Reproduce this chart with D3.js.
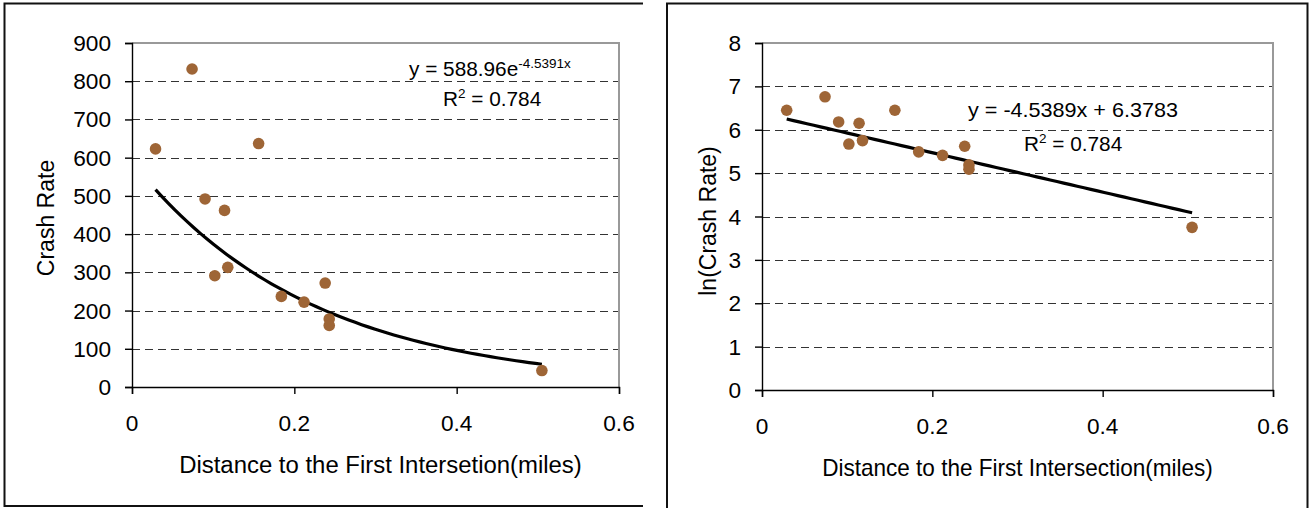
<!DOCTYPE html>
<html><head><meta charset="utf-8">
<script src="https://cdn.jsdelivr.net/npm/d3@7"></script>
<style>
html,body{margin:0;padding:0;background:#fff;}
svg{display:block;font-family:"Liberation Sans",Arial,sans-serif;}
</style></head>
<body>
<svg id="c" width="1310" height="508"></svg>
<script>
// ---- data ----
const distance = [0.029, 0.074, 0.090, 0.114, 0.102, 0.118, 0.156, 0.184, 0.212, 0.238, 0.243, 0.243, 0.505];
const crashRate = [623, 832, 492, 462, 291, 313, 637, 237, 222, 272, 178, 161, 43];
const lnCrashRate = [6.45, 6.76, 6.18, 6.15, 5.67, 5.75, 6.45, 5.49, 5.41, 5.62, 5.19, 5.09, 3.75];
const xTicks = [0, 0.2, 0.4, 0.6];
const xTickLabels = ["0", "0.2", "0.4", "0.6"];
const yTicksLeft = [0, 100, 200, 300, 400, 500, 600, 700, 800, 900];
const yTicksRight = [0, 1, 2, 3, 4, 5, 6, 7, 8];
// trendline coefficients (from the chart's equations)
const expA = 588.96, expB = -4.5391;
const linM = -4.5389, linC = 6.3783;
const trendRange = [0.029, 0.505];

const svg = d3.select("#c");
const POINT = "#9E6536";

function txt(g, x, y, s, size, anchor, sx) {
  const t = g.append("text")
    .attr("transform", `translate(${x},${y}) scale(${sx || 1.03},1)`)
    .attr("font-size", size).attr("text-anchor", anchor || "start").attr("fill", "#000");
  if (s !== null) t.text(s);
  return t;
}

// panel frames
svg.append("path").attr("d", "M643,3.5 H4.5 V506 H643").attr("fill", "none").attr("stroke", "#111").attr("stroke-width", 2);
svg.append("path").attr("d", "M667,510 V3.5 H1307.5 V510").attr("fill", "none").attr("stroke", "#111").attr("stroke-width", 2);

function panel(cfg) {
  const g = svg.append("g");
  const x = d3.scaleLinear().domain([0, 0.6]).range([cfg.x0, cfg.x1]);
  const y = d3.scaleLinear().domain([0, cfg.ymax]).range([cfg.y0, cfg.y1]);
  // gridlines
  g.selectAll("line.grid").data(cfg.yTicks.filter(v => v > 0 && v < cfg.ymax)).enter().append("line")
    .attr("x1", cfg.x0).attr("x2", cfg.x1).attr("y1", d => Math.round(y(d)) + 0.5).attr("y2", d => Math.round(y(d)) + 0.5)
    .attr("stroke", "#333").attr("stroke-width", 1.2).attr("stroke-dasharray", "8,5");
  // plot border top/right
  g.append("path").attr("d", `M${cfg.x0},${cfg.y1} H${cfg.x1} V${cfg.y0}`).attr("fill", "none").attr("stroke", "#999").attr("stroke-width", 2);
  // axes
  const ya = d3.axisLeft(y).tickValues(cfg.yTicks).tickSize(7).tickFormat("");
  g.append("g").attr("transform", `translate(${cfg.x0},0)`).call(ya)
    .call(a => a.selectAll("path,line").attr("stroke", "#000").attr("stroke-width", 1.4));
  const xa = d3.axisBottom(x).tickValues(xTicks).tickSize(7).tickFormat("");
  g.append("g").attr("transform", `translate(0,${cfg.y0})`).call(xa)
    .call(a => a.selectAll("path,line").attr("stroke", "#000").attr("stroke-width", 1.4));
  // tick labels
  cfg.yTicks.forEach(v => txt(g, cfg.x0 - 21, y(v) + 8, String(v), 22, "end"));
  xTicks.forEach((v, i) => txt(g, x(v), cfg.y0 + 44, xTickLabels[i], 22, "middle"));
  // titles
  txt(g, (cfg.x0 + cfg.x1) / 2 + cfg.xtDx, cfg.y0 + 86, cfg.xTitle, 23, "middle", cfg.xtSx);
  g.append("text").attr("transform", `translate(${cfg.ytX},${cfg.ytY}) rotate(-90)`)
    .attr("font-size", 23).attr("text-anchor", "middle").text(cfg.yTitle);
  // trend line
  const xs = d3.range(0, 61).map(i => trendRange[0] + (trendRange[1] - trendRange[0]) * i / 60);
  g.append("path").datum(xs.map(v => [v, cfg.trend(v)]))
    .attr("d", d3.line().x(d => x(d[0])).y(d => y(d[1])))
    .attr("fill", "none").attr("stroke", "#000").attr("stroke-width", 3.2);
  // points
  g.selectAll("circle").data(cfg.xs.map((d, i) => [d, cfg.ys[i]])).enter().append("circle")
    .attr("cx", d => x(d[0])).attr("cy", d => y(d[1])).attr("r", 5.8).attr("fill", POINT);
  return {g, x, y};
}

const L = panel({x0: 132, x1: 619, y0: 387, y1: 43, ymax: 900, yTicks: yTicksLeft,
  xs: distance, ys: crashRate, trend: v => expA * Math.exp(expB * v),
  xTitle: "Distance to the First Intersetion(miles)", xtDx: 5, xtSx: 1.04, yTitle: "Crash Rate", ytX: 54, ytY: 218});
const R = panel({x0: 762, x1: 1273, y0: 390, y1: 43, ymax: 8, yTicks: yTicksRight,
  xs: distance, ys: lnCrashRate, trend: v => linM * v + linC,
  xTitle: "Distance to the First Intersection(miles)", xtDx: 0, xtSx: 0.98, yTitle: "ln(Crash Rate)", ytX: 716, ytY: 221});

// equations
let t = txt(L.g, 409, 76, null, 20, "start", 1.04);
t.append("tspan").text("y = 588.96e");
t.append("tspan").attr("font-size", 13).attr("dy", -8).text("-4.5391x");
t = txt(L.g, 443, 106, null, 20, "start", 1.04);
t.append("tspan").text("R");
t.append("tspan").attr("font-size", 13).attr("dy", -8).text("2");
t.append("tspan").attr("dy", 8).text(" = 0.784");

t = txt(R.g, 968, 117, null, 20, "start", 1.08);
t.append("tspan").text("y = -4.5389x + 6.3783");
t = txt(R.g, 1024, 151, null, 20, "start", 1.04);
t.append("tspan").text("R");
t.append("tspan").attr("font-size", 13).attr("dy", -8).text("2");
t.append("tspan").attr("dy", 8).text(" = 0.784");
</script>
</body></html>
